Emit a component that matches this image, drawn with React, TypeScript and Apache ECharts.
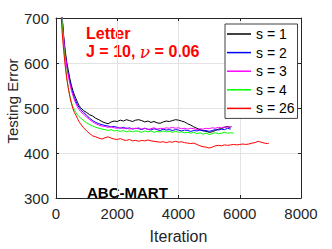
import React, { useEffect, useRef } from "react";
import * as echarts from "echarts";

const seriesNames = ["s = 1", "s = 2", "s = 3", "s = 4", "s = 26"];
const seriesColors = ["#000000", "#0000ff", "#ff00ff", "#00ff00", "#ff0000"];

const s1: number[][] = [[150,790],[200,705],[250,660],[300,628],[350,602],[400,584],[450,566],[500,551],[550,539],[600,529],[650,521],[700,513],[750,506],[800,501],[900,494],[1000,490],[1100,485],[1200,482],[1300,477],[1400,474],[1500,470],[1600,467],[1700,465],[1800,469],[1900,471],[2000,470],[2100,473],[2200,471],[2300,474],[2400,472],[2500,470],[2600,473],[2700,474],[2800,472],[2900,469],[3000,471],[3100,468],[3200,470],[3300,467],[3400,466],[3500,469],[3600,471],[3700,470],[3800,472],[3900,474],[4000,473],[4100,471],[4200,469],[4300,465],[4400,462],[4500,458],[4600,455],[4700,452],[4800,450],[4900,448],[5000,446],[5100,447],[5200,450],[5300,453],[5400,454],[5500,457],[5600,459],[5700,456]];

const s2: number[][] = [[150,785],[200,700],[250,655],[300,622],[350,596],[400,577],[450,560],[500,545],[550,533],[600,523],[650,515],[700,507],[750,502],[800,497],[900,490],[1000,484],[1100,477],[1200,472],[1300,468],[1400,465],[1500,463],[1600,461],[1700,460],[1800,458],[1900,459],[2000,457],[2100,455],[2200,457],[2300,454],[2400,456],[2500,453],[2600,455],[2700,454],[2800,452],[2900,455],[3000,453],[3100,451],[3200,454],[3300,452],[3400,450],[3500,453],[3600,451],[3700,452],[3800,450],[3900,452],[4000,451],[4100,449],[4200,451],[4300,450],[4400,448],[4500,450],[4600,449],[4700,451],[4800,449],[4900,450],[5000,448],[5100,450],[5200,452],[5300,451],[5400,453],[5500,452],[5600,455],[5700,453]];

const s3: number[][] = [[150,780],[200,698],[250,652],[300,618],[350,592],[400,572],[450,555],[500,540],[550,528],[600,518],[650,510],[700,502],[750,497],[800,492],[900,486],[1000,480],[1100,474],[1200,469],[1300,465],[1400,462],[1500,460],[1600,459],[1700,457],[1800,458],[1900,456],[2000,455],[2100,457],[2200,454],[2300,456],[2400,453],[2500,455],[2600,454],[2700,456],[2800,453],[2900,455],[3000,452],[3100,454],[3200,456],[3300,453],[3400,455],[3500,454],[3600,456],[3700,455],[3800,457],[3900,455],[4000,456],[4100,454],[4200,455],[4300,453],[4400,455],[4500,454],[4600,452],[4700,454],[4800,453],[4900,455],[5000,454],[5100,456],[5200,455],[5300,457],[5400,456],[5500,458],[5600,457],[5700,459],[5750,458]];

const s4: number[][] = [[150,770],[200,690],[250,640],[300,600],[350,568],[400,545],[450,527],[500,513],[550,503],[600,496],[650,490],[700,485],[750,481],[800,478],[900,472],[1000,467],[1100,463],[1200,460],[1300,457],[1400,455],[1500,453],[1600,452],[1700,450],[1800,452],[1900,449],[2000,450],[2100,448],[2200,450],[2300,447],[2400,449],[2500,447],[2600,449],[2700,448],[2800,446],[2900,449],[3000,447],[3100,449],[3200,446],[3300,448],[3400,447],[3500,449],[3600,447],[3700,448],[3800,446],[3900,448],[4000,446],[4100,447],[4200,445],[4300,446],[4400,444],[4500,446],[4600,443],[4700,445],[4800,442],[4900,444],[5000,441],[5100,443],[5200,445],[5300,443],[5400,444],[5500,446],[5600,444],[5700,445],[5800,444]];

const s26: number[][] = [[120,790],[160,715],[200,668],[250,628],[300,594],[350,566],[400,545],[450,526],[500,511],[550,499],[600,490],[650,484],[700,477],[750,470],[800,465],[900,456],[1000,449],[1100,443],[1200,438],[1300,436],[1400,433],[1500,431],[1600,434],[1700,436],[1800,433],[1900,431],[2000,430],[2100,432],[2200,429],[2300,428],[2400,430],[2500,427],[2600,428],[2700,426],[2800,428],[2900,427],[3000,429],[3100,427],[3200,426],[3300,425],[3400,424],[3500,425],[3600,423],[3700,425],[3800,424],[3900,426],[4000,424],[4100,425],[4200,423],[4300,422],[4400,421],[4500,422],[4600,419],[4700,416],[4800,414],[4900,413],[5000,411],[5100,413],[5200,416],[5300,417],[5400,416],[5500,418],[5600,417],[5700,418],[5800,419],[5900,418],[6000,419],[6100,420],[6200,419],[6300,420],[6400,422],[6500,423],[6600,426],[6700,424],[6800,422],[6900,421],[6950,422]];

const allSeries = [s1, s2, s3, s4, s26];

const FONT = "'Liberation Sans', Arial, Helvetica, sans-serif";
const AX = "#262626";

export default function App() {
  const ref = useRef<HTMLDivElement>(null);
  useEffect(() => {
    if (!ref.current) return;
    const chart = echarts.init(ref.current, null, { renderer: "svg" });
    const tickCommon = { show: true, inside: true, length: 3, lineStyle: { color: AX } };
    chart.setOption({
      animation: false,
      backgroundColor: "#ffffff",
      grid: { left: 56, top: 18, right: 31, bottom: 47, containLabel: false },
      xAxis: [
        {
          type: "value", min: 0, max: 8000, interval: 2000,
          axisLine: { show: true, onZero: false, lineStyle: { color: AX } },
          axisTick: tickCommon,
          axisLabel: { color: AX, fontSize: 15, fontFamily: FONT, margin: 8, formatter: (v: number) => String(v) },
          splitLine: { show: true, lineStyle: { color: "#e3e3e3" } },
          name: "Iteration", nameLocation: "middle", nameGap: 30,
          nameTextStyle: { color: AX, fontSize: 16, fontFamily: FONT },
        },
        {
          type: "value", position: "top", min: 0, max: 8000, interval: 2000,
          axisLine: { show: true, onZero: false, lineStyle: { color: AX } },
          axisTick: tickCommon, axisLabel: { show: false }, splitLine: { show: false },
        },
      ],
      yAxis: [
        {
          type: "value", min: 300, max: 700, interval: 100,
          axisLine: { show: true, onZero: false, lineStyle: { color: AX } },
          axisTick: tickCommon,
          axisLabel: { color: AX, fontSize: 15, fontFamily: FONT, margin: 7, formatter: (v: number) => String(v) },
          splitLine: { show: true, lineStyle: { color: "#e3e3e3" } },
        },
        {
          type: "value", position: "right", min: 300, max: 700, interval: 100,
          axisLine: { show: true, onZero: false, lineStyle: { color: AX } },
          axisTick: tickCommon, axisLabel: { show: false }, splitLine: { show: false },
        },
      ],
      legend: {
        data: seriesNames.map((n) => ({ name: n, icon: "rect" })),
        orient: "vertical",
        left: 225, top: 24,
        padding: [3, 3, 3, 2],
        itemWidth: 24, itemHeight: 1.5, itemGap: 4.6,
        itemTextGap: 3,
        backgroundColor: "#ffffff",
        borderColor: "#404040", borderWidth: 1,
        textStyle: { color: "#000", fontSize: 14, fontFamily: FONT, lineHeight: 14 },
      },
      graphic: [
        {
          type: "text", left: 86, top: 25,
          style: { text: "Letter", fill: "#ff0000", font: `bold 16px ${FONT}` },
        },
        {
          type: "text", left: 86, top: 43,
          style: {
            text: "{a|J = 10, }{n|ν}{a| = 0.06}",
            rich: {
              a: { fill: "#ff0000", font: `bold 16px ${FONT}` },
              n: { fill: "#ff0000", font: `italic 17px 'DejaVu Serif', serif` },
            },
          },
        },
        {
          type: "text", left: 87, top: 185,
          style: { text: "ABC-MART", fill: "#000", font: `bold 15px ${FONT}` },
        },
        {
          type: "text", x: 12, y: 101, rotation: Math.PI / 2,
          style: { text: "Testing Error", fill: AX, font: `15px ${FONT}`, align: "center", verticalAlign: "middle" },
        },
      ],
      series: allSeries.map((d, i) => ({
        name: seriesNames[i],
        type: "line",
        data: d,
        symbol: "none",
        clip: true,
        color: seriesColors[i],
        lineStyle: { width: 1, color: seriesColors[i] },
      })),
    });
    return () => chart.dispose();
  }, []);
  return <div ref={ref} style={{ width: 332, height: 249, position: "absolute", left: 0, top: 0 }} />;
}
